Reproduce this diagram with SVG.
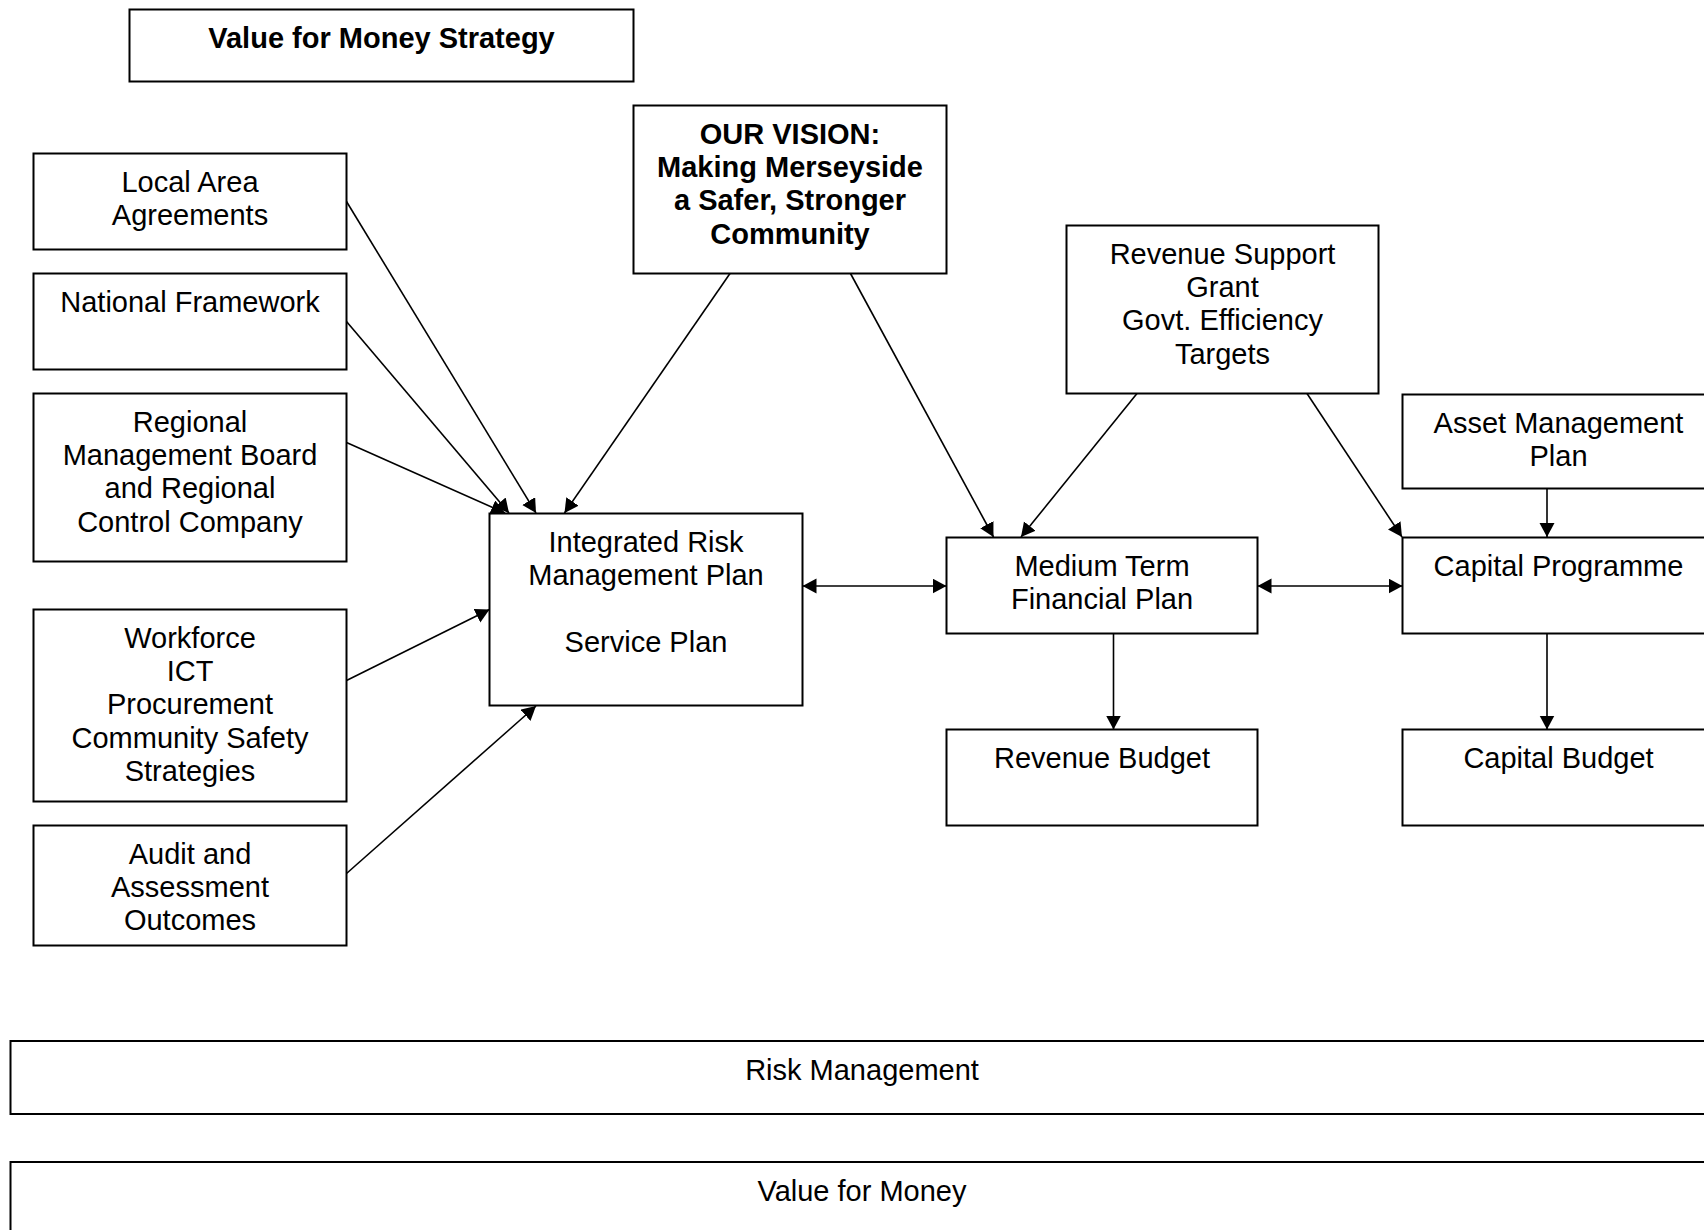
<svg xmlns="http://www.w3.org/2000/svg" width="1704" height="1230" viewBox="0 0 1704 1230">
<style>
rect{fill:#fff;stroke:#000;stroke-width:2}
text{font-family:"Liberation Sans",Arial,sans-serif;font-size:29px;fill:#000;text-anchor:middle}
.b{font-weight:bold}
.c line{stroke:#000;stroke-width:1.6;fill:none}
.a{marker-end:url(#ah)}
.d{marker-end:url(#ah);marker-start:url(#as)}
</style>
<defs>
<marker id="ah" markerUnits="userSpaceOnUse" markerWidth="15" markerHeight="16" refX="14" refY="7.5" orient="auto" viewBox="0 0 15 16"><path d="M0,0 L14,7.5 L0,15 z" fill="#000"/></marker>
<marker id="as" markerUnits="userSpaceOnUse" markerWidth="15" markerHeight="16" refX="14" refY="7.5" orient="auto-start-reverse" viewBox="0 0 15 16"><path d="M0,0 L14,7.5 L0,15 z" fill="#000"/></marker>
</defs>
<rect width="1704" height="1230" style="stroke:none;fill:#fff"/>
<g id="vfm-strategy"><rect x="129.5" y="9.5" width="504" height="72"/><text x="381.5" y="47.5" class="b">Value for Money Strategy</text></g>
<g id="vision"><rect x="633.5" y="105.5" width="313" height="168"/><text class="b" x="790" y="143.5">OUR VISION:</text><text class="b" x="790" y="177">Making Merseyside</text><text class="b" x="790" y="210.3">a Safer, Stronger</text><text class="b" x="790" y="243.6">Community</text></g>
<g id="local-area"><rect x="33.5" y="153.5" width="313" height="96"/><text x="190" y="191.8">Local Area</text><text x="190" y="225.1">Agreements</text></g>
<g id="national"><rect x="33.5" y="273.5" width="313" height="96"/><text x="190" y="311.8">National Framework</text></g>
<g id="regional"><rect x="33.5" y="393.5" width="313" height="168"/><text x="190" y="431.8">Regional</text><text x="190" y="465.1">Management Board</text><text x="190" y="498.4">and Regional</text><text x="190" y="531.7">Control Company</text></g>
<g id="workforce"><rect x="33.5" y="609.5" width="313" height="192"/><text x="190" y="647.8">Workforce</text><text x="190" y="681.1">ICT</text><text x="190" y="714.4">Procurement</text><text x="190" y="747.7">Community Safety</text><text x="190" y="781">Strategies</text></g>
<g id="audit"><rect x="33.5" y="825.5" width="313" height="120"/><text x="190" y="863.8">Audit and</text><text x="190" y="897.1">Assessment</text><text x="190" y="930.4">Outcomes</text></g>
<g id="irmp"><rect x="489.5" y="513.5" width="313" height="192"/><text x="646" y="551.8">Integrated Risk</text><text x="646" y="585.1">Management Plan</text><text x="646" y="651.7">Service Plan</text></g>
<g id="mtfp"><rect x="946.5" y="537.5" width="311" height="96"/><text x="1102" y="575.8">Medium Term</text><text x="1102" y="609.1">Financial Plan</text></g>
<g id="revenue-budget"><rect x="946.5" y="729.5" width="311" height="96"/><text x="1102" y="767.8">Revenue Budget</text></g>
<g id="revenue-support"><rect x="1066.5" y="225.5" width="312" height="168"/><text x="1222.5" y="263.8">Revenue Support</text><text x="1222.5" y="297.1">Grant</text><text x="1222.5" y="330.4">Govt. Efficiency</text><text x="1222.5" y="363.7">Targets</text></g>
<g id="asset"><rect x="1402.5" y="394.5" width="313" height="94"/><text x="1558.5" y="432.8">Asset Management</text><text x="1558.5" y="466.1">Plan</text></g>
<g id="capital-programme"><rect x="1402.5" y="537.5" width="313" height="96"/><text x="1558.5" y="575.8">Capital Programme</text></g>
<g id="capital-budget"><rect x="1402.5" y="729.5" width="313" height="96"/><text x="1558.5" y="767.8">Capital Budget</text></g>
<g id="risk-management"><rect x="10.5" y="1041" width="1704" height="73"/><text x="862" y="1079.5">Risk Management</text></g>
<g id="value-for-money"><rect x="10.5" y="1162" width="1704" height="90"/><text x="862" y="1200.5">Value for Money</text></g>
<g id="connectors" class="c">
<line class="a" x1="346.5" y1="201.5" x2="536" y2="513"/>
<line class="a" x1="346.5" y1="321.5" x2="509" y2="513"/>
<line class="a" x1="346.5" y1="442.5" x2="505" y2="513"/>
<line class="a" x1="730" y1="273.5" x2="564.5" y2="513"/>
<line class="a" x1="850.5" y1="273.5" x2="993.5" y2="537"/>
<line class="a" x1="1137" y1="393.5" x2="1021" y2="537"/>
<line class="a" x1="1307" y1="393.5" x2="1402" y2="537"/>
<line class="a" x1="1547" y1="488.5" x2="1547" y2="537"/>
<line class="d" x1="802.5" y1="586" x2="946.5" y2="586"/>
<line class="d" x1="1257.5" y1="586" x2="1402.5" y2="586"/>
<line class="a" x1="1113.5" y1="633.5" x2="1113.5" y2="729.5"/>
<line class="a" x1="1547" y1="633.5" x2="1547" y2="729.5"/>
<line class="a" x1="346.5" y1="680.5" x2="489.5" y2="609.5"/>
<line class="a" x1="346.5" y1="873.5" x2="536" y2="706"/>
</g>
</svg>
